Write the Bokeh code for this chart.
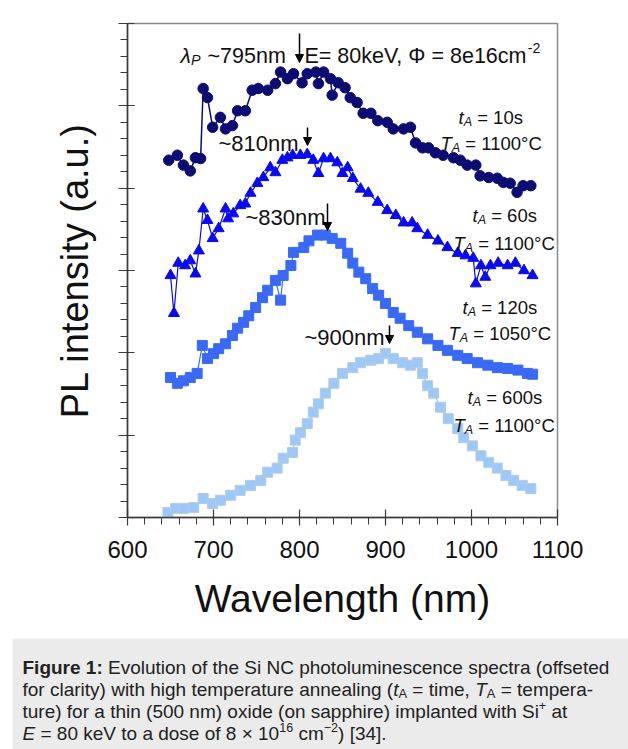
from bokeh.plotting import figure
from bokeh.models import Range1d, Label, Arrow, NormalHead, FixedTicker, Spacer
from bokeh.layouts import column, row
from bokeh.embed import file_html
from bokeh.resources import INLINE

FONT = "Liberation Sans"

# ---------------- data ----------------
x_ticks = [600, 700, 800, 900, 1000, 1100]
y_ticks = [0, 1, 2, 3, 4, 5, 6]

wl_10s = [648, 658, 665, 673, 679, 685, 688, 693, 699, 708, 714, 722, 728, 737, 745, 752,
          763, 772, 778, 786, 793, 803, 809, 819, 822, 828, 836, 838, 845, 853, 859, 867,
          874, 883, 891, 902, 909, 921, 929, 935, 943, 950, 958, 967, 979, 987, 995, 1005,
          1010, 1020, 1030, 1037, 1045, 1053, 1060, 1069]
pl_10s = [4.34, 4.40, 4.28, 4.21, 4.37, 4.36, 5.21, 5.10, 4.74, 4.86, 4.72, 4.76, 4.94, 4.94, 5.19, 5.21,
          5.19, 5.27, 5.41, 5.33, 5.39, 5.28, 5.39, 5.41, 5.27, 5.41, 5.33, 5.13, 5.28, 5.22, 5.10, 5.04,
          4.91, 4.91, 4.82, 4.80, 4.72, 4.72, 4.74, 4.55, 4.49, 4.49, 4.43, 4.40, 4.37, 4.34, 4.28, 4.28,
          4.15, 4.13, 4.12, 4.07, 4.06, 3.95, 4.03, 4.03]

wl_60s = [650, 654, 659, 667, 673, 679, 683, 688, 693, 699, 706, 714, 717, 723, 731, 737,
          743, 751, 758, 766, 772, 780, 786, 792, 801, 809, 816, 822, 828, 836, 844, 850,
          856, 862, 871, 880, 891, 902, 912, 921, 931, 937, 949, 961, 972, 984, 993, 1002,
          1005, 1011, 1016, 1022, 1031, 1042, 1051, 1061, 1071]
pl_60s = [2.94, 2.48, 3.09, 3.06, 3.12, 2.96, 3.24, 3.75, 3.61, 3.39, 3.51, 3.75, 3.63, 3.69, 3.79, 3.81,
          3.94, 4.06, 4.13, 4.25, 4.19, 4.34, 4.37, 4.40, 4.40, 4.41, 4.34, 4.18, 4.36, 4.36, 4.31, 4.18,
          4.25, 4.12, 3.99, 3.94, 3.83, 3.73, 3.67, 3.58, 3.58, 3.51, 3.43, 3.36, 3.28, 3.21, 3.18, 3.15,
          2.84, 3.06, 2.92, 3.06, 3.09, 3.06, 3.09, 3.00, 2.94]

wl_120s = [650, 658, 665, 673, 681, 687, 693, 700, 706, 714, 722, 728, 735, 741, 749, 757,
           763, 772, 778, 781, 790, 793, 805, 811, 821, 830, 838, 848, 856, 862, 869, 877,
           885, 892, 900, 909, 917, 927, 937, 949, 961, 972, 984, 995, 1007, 1019, 1030, 1042,
           1054, 1065, 1071]
pl_120s = [1.70, 1.63, 1.66, 1.70, 1.75, 2.09, 1.93, 1.99, 2.05, 2.11, 2.21, 2.30, 2.37, 2.45, 2.55, 2.67,
           2.76, 2.88, 2.64, 2.94, 3.06, 3.22, 3.28, 3.36, 3.43, 3.43, 3.39, 3.33, 3.21, 3.09, 2.98, 2.90,
           2.78, 2.70, 2.60, 2.49, 2.42, 2.33, 2.25, 2.17, 2.09, 2.03, 1.97, 1.93, 1.88, 1.85, 1.82, 1.81,
           1.79, 1.75, 1.74]

wl_600s = [647, 656, 665, 677, 688, 699, 708, 720, 731, 743, 755, 763, 774, 781, 792, 795,
           801, 809, 816, 822, 830, 840, 850, 862, 871, 883, 892, 900, 909, 920, 929, 937,
           943, 949, 956, 964, 973, 984, 991, 1001, 1011, 1020, 1030, 1040, 1049, 1059, 1069]
pl_600s = [0.06, 0.11, 0.11, 0.12, 0.23, 0.17, 0.21, 0.27, 0.33, 0.39, 0.45, 0.55, 0.60, 0.72, 0.79, 0.94,
           1.03, 1.14, 1.28, 1.38, 1.51, 1.63, 1.75, 1.82, 1.88, 1.91, 1.93, 1.99, 1.93, 1.88, 1.85, 1.88,
           1.75, 1.60, 1.51, 1.34, 1.20, 1.08, 0.97, 0.87, 0.75, 0.67, 0.60, 0.51, 0.45, 0.39, 0.35]

# ---------------- layout constants (page pixels) ----------------
W, H1, H2 = 628, 638, 111
B_L, B_T, B_R, B_B = 127, 23, 71, 121
FW = W - B_L - B_R
FH = H1 - B_T - B_B
XR = (600, 1100)
YR = (0, 6)
CAP_X0 = 12

# Arial / Liberation Sans advance widths (per 1000 em)
WID = {' ': 278, '(': 333, ')': 333, '+': 584, ',': 278, '-': 333, '.': 278, ':': 278, '=': 584,
       '[': 278, ']': 278, '~': 584, '×': 584, '−': 584, '°': 400, 'λ': 500, 'Φ': 764,
       'A': 667, 'C': 722, 'E': 667, 'F': 611, 'N': 722, 'P': 667, 'S': 667, 'T': 611, 'V': 667,
       'a': 556, 'b': 556, 'c': 500, 'd': 556, 'e': 556, 'f': 278, 'g': 556, 'h': 556, 'i': 222,
       'j': 222, 'k': 500, 'l': 222, 'm': 833, 'n': 556, 'o': 556, 'p': 556, 'r': 333, 's': 500,
       't': 278, 'u': 556, 'v': 500, 'w': 722, 'x': 500, 'y': 500, 'z': 500}
BOLD = {'F': 611, 'i': 278, 'g': 611, 'u': 611, 'r': 389, 'e': 556, ' ': 278, '1': 556, ':': 333}


def text_width(s, size, bold=False):
    tot = 0
    for ch in s:
        if bold and ch in BOLD:
            tot += BOLD[ch]
        elif ch.isdigit():
            tot += 556
        else:
            tot += WID.get(ch, 556)
    return tot * size / 1000.0


def chart_xy(X, Y):
    fx = X - B_L
    fy = Y - B_T
    return XR[0] + fx * (XR[1] - XR[0]) / FW, YR[1] - fy * (YR[1] - YR[0]) / FH


def cap_xy(X, Y):
    return X - CAP_X0, Y - H1


def put(fig, conv, X, Y, txt, size, style="normal", color="#111111"):
    x, y = conv(X, Y)
    fig.add_layout(Label(x=x, y=y, text=txt, text_font=FONT, text_font_size=f"{size:.1f}px",
                         text_font_style=style, text_color=color, text_align="left",
                         text_baseline="alphabetic"))


def run(fig, conv, X, Y, segs, size, color="#111111", sup_raise=0.36):
    for txt, kind in segs:
        bold = kind == "bold"
        if kind in ("sub", "isub"):
            s = size * 0.68
            yy = Y + size * 0.22
            style = "italic" if kind == "isub" else "normal"
        elif kind == "sup":
            s = size * 0.66
            yy = Y - size * sup_raise
            style = "normal"
        else:
            s = size
            yy = Y
            style = {"bold": "bold", "it": "italic"}.get(kind, "normal")
        core = txt.lstrip(" ")
        lead = len(txt) - len(core)
        X += text_width(" " * lead, s, bold)
        shown = core.rstrip(" ")
        if shown:
            put(fig, conv, X, yy, shown, s, style, color)
        X += text_width(core, s, bold)


# ---------------- main chart ----------------
p = figure(width=W, height=H1, x_range=Range1d(*XR), y_range=Range1d(*YR),
           output_backend="svg", toolbar_location=None,
           min_border_left=B_L, min_border_right=B_R, min_border_top=B_T, min_border_bottom=B_B,
           background_fill_color="white", border_fill_color="white")
p.xgrid.visible = False
p.ygrid.visible = False
p.outline_line_color = "#8a8a8a"
p.outline_line_width = 1.5

AX = "#3a3a3a"
p.xaxis.ticker = FixedTicker(ticks=x_ticks, minor_ticks=list(range(600, 1101, 20)))
p.yaxis.ticker = FixedTicker(ticks=y_ticks, minor_ticks=[i * 0.2 for i in range(31)])
for ax in (p.xaxis[0], p.yaxis[0]):
    ax.axis_line_color = AX
    ax.axis_line_width = 1.5
    ax.major_tick_line_color = AX
    ax.major_tick_line_width = 1.2
    ax.minor_tick_line_color = AX
    ax.minor_tick_line_width = 1
    ax.minor_tick_in = 0
    ax.minor_tick_out = 7
    ax.major_label_text_font = FONT
    ax.major_label_text_color = "#111111"
    ax.axis_label_text_font = FONT
    ax.axis_label_text_font_style = "normal"
    ax.axis_label_text_color = "#111111"

p.xaxis.major_tick_in = 8
p.xaxis.major_tick_out = 8
p.xaxis.major_label_text_font_size = "24px"
p.xaxis.major_label_standoff = 15
p.xaxis.axis_label = "Wavelength (nm)"
p.xaxis.axis_label_text_font_size = "39px"
p.xaxis.axis_label_standoff = 16

p.yaxis.major_tick_in = 7
p.yaxis.major_tick_out = 9
p.yaxis.major_label_text_color = None
p.yaxis.major_label_text_font_size = "2px"
p.yaxis.major_label_standoff = 0
p.yaxis.axis_label = "PL intensity (a.u.)"
p.yaxis.axis_label_text_font_size = "38px"
p.yaxis.axis_label_standoff = 23

NAVY = "#0c0c72"
BLUE = "#0a0af0"
MID = "#3a6af5"
LIGHT = "#9cc8fa"

p.line(wl_10s, pl_10s, color=NAVY, line_width=1.5)
p.scatter(wl_10s, pl_10s, marker="circle", size=10.5, fill_color=NAVY, line_color=NAVY)

p.line(wl_60s, pl_60s, color=BLUE, line_width=1.2)
p.scatter(wl_60s, pl_60s, marker="triangle", size=11, fill_color=BLUE, line_color=BLUE)

p.line(wl_120s, pl_120s, color=MID, line_width=1.2)
p.scatter(wl_120s, pl_120s, marker="square", size=10, fill_color=MID, line_color=MID)

p.line(wl_600s, pl_600s, color=LIGHT, line_width=1.2)
p.scatter(wl_600s, pl_600s, marker="square", size=10, fill_color=LIGHT, line_color="#b4cbe0")


def arrow(X, Ya, Yb):
    xs, ys = chart_xy(X, Ya)
    xe, ye = chart_xy(X, Yb)
    p.add_layout(Arrow(end=NormalHead(size=8, fill_color="black", line_color="black", line_width=1),
                       x_start=xs, y_start=ys, x_end=xe, y_end=ye,
                       line_color="black", line_width=1.5))


# peak annotations
run(p, chart_xy, 180, 55, [("λ", "it"), ("P", "isub")], 21)
put(p, chart_xy, 207, 55, "~795nm", 21.5)
arrow(299, 33, 62)
run(p, chart_xy, 304, 55, [("E= 80keV, Φ = 8e16cm", "n"), ("-2", "sup")], 21.5)

put(p, chart_xy, 218, 143, "~810nm", 22)
arrow(307, 127, 145)
put(p, chart_xy, 245, 217, "~830nm", 22)
arrow(327, 203, 230)
put(p, chart_xy, 304, 337, "~900nm", 22)
arrow(389, 325, 343)

# annealing conditions
conds = [(458, 117, "10s", 440, 143, "1100"),
         (472, 215, "60s", 453, 243, "1100"),
         (462, 307, "120s", 448, 333, "1050"),
         (467, 397, "600s", 453, 425, "1100")]
for tx, ty, tval, Tx, Ty, Tval in conds:
    run(p, chart_xy, tx, ty, [("t", "it"), ("A", "isub"), (" = " + tval, "n")], 18.5)
    run(p, chart_xy, Tx, Ty, [("T", "it"), ("A", "isub"), (" = " + Tval + "°C", "n")], 18.5)

# ---------------- caption ----------------
CW = W - CAP_X0
c = figure(width=CW, height=H2, x_range=Range1d(0, CW), y_range=Range1d(H2, 0),
           output_backend="svg", toolbar_location=None, min_border=0,
           x_axis_location=None, y_axis_location=None,
           background_fill_color="#ebebeb", border_fill_color="#ebebeb")
c.outline_line_color = None
c.xgrid.visible = False
c.ygrid.visible = False

CS = 19
CC = "#222222"
run(c, cap_xy, 22, 667, [("Figure 1:", "bold"),
                         (" Evolution of the Si NC photoluminescence spectra (offseted", "n")], CS, CC)
run(c, cap_xy, 22, 689, [("for clarity) with high temperature annealing (", "n"), ("t", "it"), ("A", "sub"),
                         (" = time, ", "n"), ("T", "it"), ("A", "sub"), (" = tempera-", "n")], CS, CC)
run(c, cap_xy, 22, 711, [("ture) for a thin (500 nm) oxide (on sapphire) implanted with Si", "n"),
                         ("+", "sup"), (" at", "n")], CS, CC, sup_raise=0.30)
run(c, cap_xy, 22, 733, [("E", "it"), (" = 80 keV to a dose of 8 × 10", "n"), ("16", "sup"),
                         (" cm", "n"), ("−2", "sup"), (") [34].", "n")], CS, CC, sup_raise=0.30)

layout = column(p, row(Spacer(width=CAP_X0, height=H2), c))

with open("out.html", "w") as f:
    f.write(file_html(layout, INLINE))
